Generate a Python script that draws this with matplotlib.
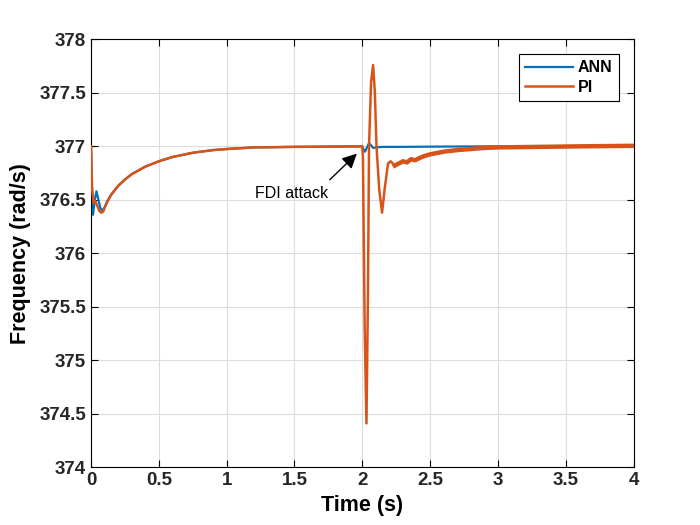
import numpy as np
import matplotlib.pyplot as plt

plt.rcParams['font.family'] = ['Liberation Sans', 'DejaVu Sans']

# ANN controller response
t_ann = [0, 0.005, 0.015, 0.028, 0.04, 0.055, 0.07, 0.085, 0.1, 0.12, 0.15,
         0.2, 0.25, 0.3, 0.4, 0.5, 0.6, 0.75, 0.9, 1.0, 1.2, 1.5, 2.0,
         2.01, 2.02, 2.035, 2.05, 2.065, 2.08, 2.1, 2.15, 2.3, 2.6, 3.0, 4.0]
f_ann = [377.0, 376.7, 376.36, 376.5, 376.58, 376.5, 376.42, 376.40, 376.43,
         376.49, 376.55, 376.63, 376.69, 376.74, 376.81, 376.86, 376.9,
         376.94, 376.965, 376.975, 376.99, 376.995, 377.0,
         376.97, 376.95, 376.99, 377.03, 377.01, 376.985, 376.99, 376.995,
         376.995, 376.998, 377.0, 377.0]

# PI controller response
t_pi = [0, 0.008, 0.02, 0.03, 0.045, 0.06, 0.075, 0.09, 0.105, 0.12, 0.15,
        0.2, 0.25, 0.3, 0.4, 0.5, 0.6, 0.75, 0.9, 1.0, 1.2, 1.5, 2.0,
        2.005, 2.018, 2.031, 2.042, 2.05, 2.065, 2.08, 2.093, 2.105, 2.125,
        2.146, 2.165, 2.19, 2.21, 2.24, 2.27, 2.3, 2.33, 2.36, 2.39, 2.42,
        2.46, 2.5, 2.6, 2.7, 2.8, 2.9, 3.0, 3.3, 3.6, 4.0]
f_pi = [377.0, 376.6, 376.47, 376.49, 376.45, 376.40, 376.38, 376.39, 376.44,
        376.48, 376.55, 376.63, 376.69, 376.74, 376.81, 376.86, 376.9,
        376.94, 376.965, 376.975, 376.99, 376.995, 377.0,
        376.9, 375.3, 374.41, 375.6, 377.0, 377.6, 377.76, 377.5, 377.0, 376.6,
        376.38, 376.6, 376.84, 376.86, 376.82, 376.84, 376.86, 376.85, 376.88,
        376.87, 376.89, 376.91, 376.925, 376.95, 376.965, 376.975, 376.985,
        376.99, 376.995, 377.0, 377.005]

blue = '#0072BD'
orange = '#D95319'

fig = plt.figure(figsize=(7, 5.25), dpi=100)
ax = fig.add_axes([0.13, 0.11, 0.775, 0.815])

ax.plot(t_ann, f_ann, color=blue, lw=1.6, label='ANN', zorder=2)
ax.plot(t_pi, f_pi, color=orange, lw=1.8, label='PI', zorder=3)
# noisy tail looks thicker in the original
i0 = t_pi.index(2.24)
ax.plot(t_pi[i0:], f_pi[i0:], color=orange, lw=3.2, zorder=3)

ax.set_xlim(0, 4)
ax.set_ylim(374, 378)
ax.set_xticks(np.arange(0, 4.01, 0.5))
ax.set_xticklabels(['0', '0.5', '1', '1.5', '2', '2.5', '3', '3.5', '4'])
ax.set_yticks(np.arange(374, 378.01, 0.5))
ax.set_yticklabels(['374', '374.5', '375', '375.5', '376', '376.5', '377', '377.5', '378'])
ax.grid(True, color='#dcdcdc', lw=0.8)
ax.set_axisbelow(True)
ax.tick_params(direction='in', top=True, right=True, labelsize=13.5, length=5, width=0.8)
for lab in ax.get_xticklabels() + ax.get_yticklabels():
    lab.set_fontweight('bold')
    lab.set_color('#262626')
for s in ax.spines.values():
    s.set_linewidth(0.8)

ax.set_xlabel('Time (s)', fontsize=15.5, fontweight='bold', labelpad=4)
ax.set_ylabel('Frequency (rad/s)', fontsize=15.5, fontweight='bold', labelpad=6)

ax.annotate('', xy=(1.975, 376.95), xytext=(1.746, 376.67),
            arrowprops=dict(arrowstyle='-|>', color='black', lw=1,
                            mutation_scale=22))
ax.text(1.75, 376.56, 'FDI attack', fontsize=11.5, ha='right', va='center')

leg = ax.legend(loc='upper right', bbox_to_anchor=(1.0, 1.0), borderaxespad=0.9,
                prop={'weight': 'bold', 'size': 11.5}, fancybox=False,
                edgecolor='black', framealpha=1, handlelength=3.0,
                handletextpad=0.3, borderpad=0.4, labelspacing=0.3)
leg.get_frame().set_linewidth(0.8)

fig.savefig('out.png', dpi=100)
